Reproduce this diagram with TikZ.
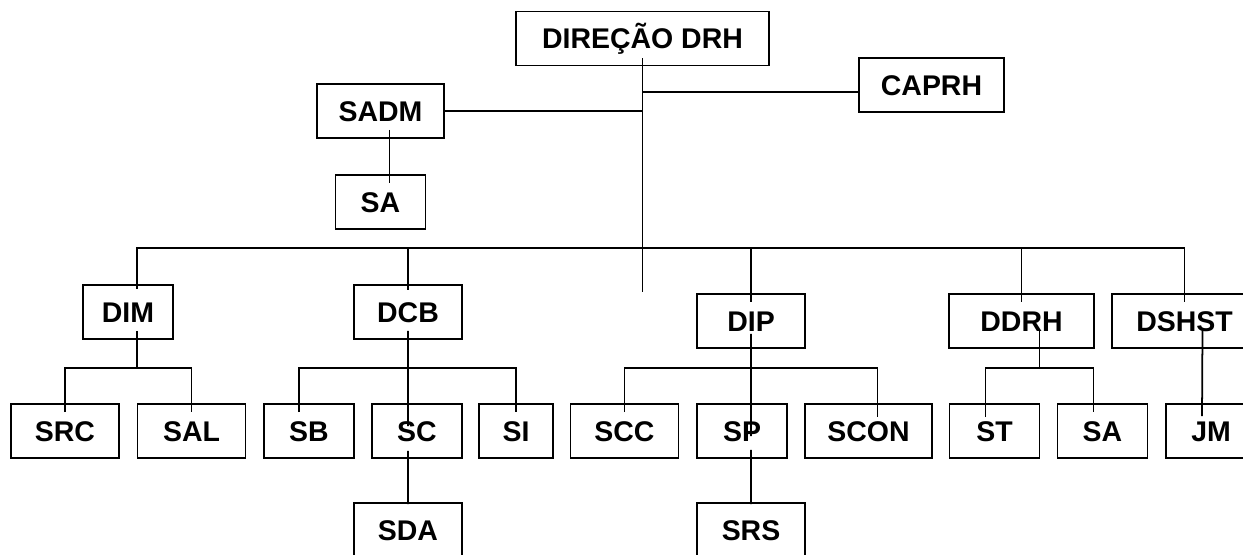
\documentclass[tikz,border=0pt]{standalone}
\usepackage{fontspec}
\setmainfont{Liberation Sans}
\usetikzlibrary{calc}
\begin{document}
\begin{tikzpicture}[x=0.02cm,y=-0.02cm,
    unitbox/.style={draw,line width=1pt,inner sep=0pt,minimum height=1.08cm,
      text height=11.6pt,text depth=0pt,font=\fontsize{16.2pt}{19pt}\selectfont\bfseries},
    w4/.style={unitbox,minimum width=1.48cm},
    w5/.style={unitbox,minimum width=1.8cm},
    w6/.style={unitbox,minimum width=2.16cm},
    w7/.style={unitbox,minimum width=2.54cm},
    w8/.style={unitbox,minimum width=2.9cm},
    every path/.style={line width=1pt}]
% \clip (0,0) rectangle (1243,554);
\useasboundingbox (0,0) rectangle (1243,554);

% Direction and staff
\node[unitbox,minimum width=5.06cm] (dir) at (642.5,38.5) {DIREÇÃO DRH};
\node[w8] (caprh) at (931.5,85) {CAPRH};
\node[w7] (sadm) at (380.5,111) {SADM};
\node[w5] (sa1) at (380.5,202) {SA};

% Divisions
\node[w5] (dim) at (128,312) {DIM};
\node[w6] (dcb) at (408,312) {DCB};
\node[w6] (dip) at (751,321) {DIP};
\node[w8] (ddrh) at (1021.5,321) {DDRH};
\node[w8] (dshst) at (1184.5,321) {DSHST};

% Sections
\node[w6] (src) at (65,431) {SRC};
\node[w6] (sal) at (191.5,431) {SAL};
\node[w5] (sb) at (309,431) {SB};
\node[w5] (sc) at (417,431) {SC};
\node[w4] (si) at (516,431) {SI};
\node[w6] (scc) at (624.5,431) {SCC};
\node[w5] (sp) at (742,431) {SP};
\node[w7] (scon) at (868.5,431) {SCON};
\node[w5] (st) at (994.5,431) {ST};
\node[w5] (sa2) at (1102.5,431) {SA};
\node[w5] (jm) at (1211,431) {JM};
\node[w6] (sda) at (408,530) {SDA};
\node[w6] (srs) at (751,530) {SRS};

% Trunk from the direction
\coordinate (stub) at (642.5,292);
\coordinate (bus) at (642.5,248);
\coordinate (kcap) at ([yshift=-0.14cm]caprh.west);
\draw ([yshift=0.16cm]dir.south) -- (stub);
\draw (kcap) -- (kcap -| stub);
\draw (sadm.east) -- (sadm.east -| stub);
\draw ([xshift=0.18cm,yshift=0.18cm]sadm.south) -- ([xshift=0.18cm,yshift=-0.18cm]sa1.north);

% Main bus to the divisions
\draw ([xshift=0.18cm,yshift=-0.1cm]dim.north) |- (bus) -| ([yshift=-0.18cm]dshst.north);
\draw (dcb.north |- bus) -- ([yshift=-0.12cm]dcb.north);
\draw (dip.north |- bus) -- ([yshift=-0.18cm]dip.north);
\draw (ddrh.north |- bus) -- ([yshift=-0.18cm]ddrh.north);

% DIM
\draw ([xshift=0.18cm,yshift=0.18cm]dim.south) -- ++(0,37) coordinate (kdim);
\draw ([yshift=-0.18cm]src.north) |- (kdim) -| ([yshift=-0.18cm]sal.north);

% DCB
\coordinate (kdcb) at (dcb.south |- kdim);
\draw ([yshift=0.18cm]dcb.south) -- ([xshift=-0.18cm,yshift=-0.46cm]sc.north);
\draw ([xshift=-0.2cm,yshift=-0.18cm]sb.north) |- (kdcb) -| ([yshift=-0.18cm]si.north);
\draw ([xshift=-0.18cm,yshift=0.16cm]sc.south) -- ([yshift=-0.04cm]sda.north);

% DIP
\coordinate (kdip) at (dip.south |- kdim);
\draw ([yshift=0.3cm]dip.south) -- ([xshift=0.18cm,yshift=-0.66cm]sp.north);
\draw ([yshift=-0.18cm]scc.north) |- (kdip) -| ([xshift=0.18cm,yshift=-0.28cm]scon.north);
\draw ([xshift=0.18cm,yshift=0.18cm]sp.south) -- ([yshift=-0.04cm]srs.north);

% DDRH
\draw ([xshift=0.36cm,yshift=0.38cm]ddrh.south) -- ++(0,38) coordinate (kddrh);
\draw ([xshift=-0.18cm,yshift=-0.28cm]st.north) |- (kddrh) -| ([xshift=-0.18cm,yshift=-0.18cm]sa2.north);

% DSHST
\draw ([xshift=0.36cm,yshift=0.38cm]dshst.south) -- ([xshift=-0.18cm,yshift=-0.26cm]jm.north);
\end{tikzpicture}
\end{document}
